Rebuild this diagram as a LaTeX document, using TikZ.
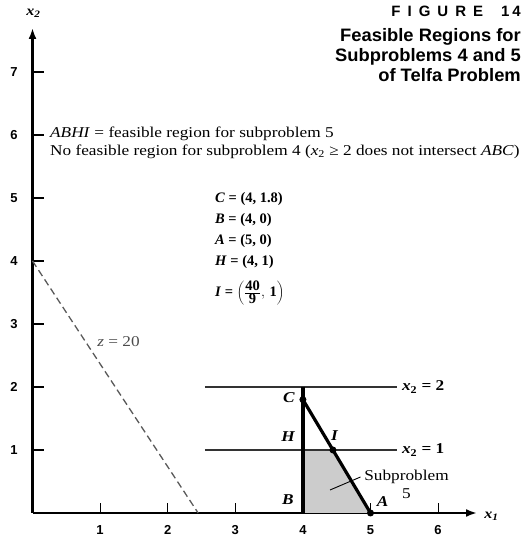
\documentclass[tikz,border=0pt]{standalone}
\usepackage{fontspec}
\setmainfont{Liberation Serif}
\newfontfamily\wideserif[FakeStretch=1.15]{Liberation Serif}
\newfontfamily\titlefont[FakeStretch=1.02]{Liberation Sans}
\newfontfamily\ticksans{Liberation Sans}
\usetikzlibrary{arrows.meta}
\tikzset{
  axis/.style={line width=2.6pt,-{Latex[length=11pt,width=8pt]}},
  tickmark/.style={line width=1.2pt},
  ticklab/.style={font=\ticksans\bfseries\fontsize{13}{14}\selectfont},
  hline/.style={line width=1.3pt,black!80},
  heavy/.style={line width=3.2pt},
  ptdot/.style={circle,fill=black,inner sep=0pt,minimum size=7pt},
  ptlab/.style={font=\wideserif\fontsize{15}{16}\selectfont\itshape\bfseries},
  body/.style={font=\wideserif\fontsize{15}{17}\selectfont,inner sep=0pt},
  listtxt/.style={font=\fontsize{14.5}{16}\selectfont\bfseries,inner sep=0pt,anchor=west},
  ttl/.style={font=\titlefont\bfseries\fontsize{18}{20}\selectfont,inner sep=0pt,anchor=north east}
}
\begin{document}
\begin{tikzpicture}[x=67.6pt,y=63pt]
\useasboundingbox (-32.5pt,-23pt) rectangle (493.5pt,513pt);
% axes
\coordinate (O) at (0,0);
\coordinate (xend) at (444.5pt,0);
\coordinate (yend) at (0,485pt);
\draw[axis] (O) -- (xend);
\draw[axis] (O) -- (yend);
\node[font=\wideserif\itshape\bfseries\fontsize{14}{14}\selectfont] (xlab) at (459pt,-3pt) {x\textsubscript{1}};
\node[font=\wideserif\itshape\bfseries\fontsize{14}{14}\selectfont] (ylab) at (1pt,500pt) {x\textsubscript{2}};
% ticks
\foreach \i in {1,...,6}{
  \draw[tickmark] (\i,0) -- (\i,10pt);
  \node[ticklab] (xt\i) at (\i,-17pt) {\i};
}
\foreach \j in {1,...,7}{
  \draw[tickmark] (0,\j) -- (11pt,\j);
  \node[ticklab] (yt\j) at (-18.5pt,\j) {\j};
}
% title
\node[font=\ticksans\bfseries\fontsize{15}{16}\selectfont,inner sep=0pt,anchor=north east] (fig) at (488.5pt,507pt) {F\hspace{7pt}I\hspace{7pt}G\hspace{7pt}U\hspace{7pt}R\hspace{7pt}E\hspace{18pt}1\hspace{3pt}4};
\node[ttl] (t1) at (488.5pt,485pt) {Feasible Regions for};
\node[ttl] (t2) at (488.5pt,465pt) {Subproblems 4 and 5};
\node[ttl] (t3) at (488.5pt,445pt) {of Telfa Problem};
% description
\node[body,anchor=west] (d1) at (17.5pt,379pt) {\textit{ABHI} = feasible region for subproblem 5};
\node[body,anchor=west] (d2) at (17.5pt,361pt) {No feasible region for subproblem 4 (\textit{x}\textsubscript{2} ≥ 2 does not intersect \textit{ABC})};
% points list
\node[listtxt] (lc) at (182.5pt,314pt) {\textit{C} = (4, 1.8)};
\node[listtxt] (lb) at (182.5pt,293pt) {\textit{B} = (4, 0)};
\node[listtxt] (la) at (182.5pt,272pt) {\textit{A} = (5, 0)};
\node[listtxt] (lh) at (182.5pt,251pt) {\textit{H} = (4, 1)};
\node[listtxt] (li) at (182.5pt,220pt) {\textit{I} = $\left(\frac{\textbf{40}}{\textbf{9}},\,\textbf{1}\right)$};
% dashed objective line
\coordinate (z1) at (0,4);
\coordinate (z2) at (2.45,0);
\draw[line width=1.3pt,dash pattern=on 7pt off 4pt,gray!70!black] (z1) -- (z2);
\node[body,gray!60!black] (zl) at (86pt,171pt) {\textit{z} = 20};
% key points
\coordinate (A) at (5,0);
\coordinate (B) at (4,0);
\coordinate (C) at (4,1.8);
\coordinate (H) at (4,1);
\coordinate (I) at (40/9,1);
\coordinate (T) at (4,2);
% shaded region
\fill[gray!40] (B) -- (A) -- (I) -- (H) -- cycle;
% horizontal constraint lines
\coordinate (h2a) at (2.55,2);
\coordinate (h2b) at (5.39,2);
\coordinate (h1a) at (2.55,1);
\coordinate (h1b) at (5.39,1);
\draw[hline] (h2a) -- (h2b);
\draw[hline] (h1a) -- (h1b);
\node[body,font=\wideserif\bfseries\fontsize{15}{17}\selectfont,anchor=west] (c2) at ([xshift=5pt]h2b) {\textit{x}\textsubscript{2} = 2};
\node[body,font=\wideserif\bfseries\fontsize{15}{17}\selectfont,anchor=west] (c1) at ([xshift=5pt]h1b) {\textit{x}\textsubscript{2} = 1};
% heavy lines
\draw[heavy] (T) -- (B);
\draw[heavy] (C) -- (A);
\node[ptdot] (Cd) at (C) {};
\node[ptdot] (Id) at (I) {};
\node[ptdot] (Ad) at (A) {};
% point labels
\node[ptlab] (Cl) at (256.5pt,115pt) {C};
\node[ptlab] (Hl) at (255.5pt,76pt) {H};
\node[ptlab] (Il) at (302pt,77pt) {I};
\node[ptlab] (Bl) at (255.5pt,13pt) {B};
\node[ptlab] (Al) at (350pt,11pt) {A};
% subproblem label
\node[body,align=center] (sub) at (374pt,29pt) {Subproblem\\[1pt]5};
\coordinate (lead) at (297.5pt,23pt);
\draw[line width=0.9pt] (lead) -- (328pt,36pt);
\end{tikzpicture}
\end{document}
